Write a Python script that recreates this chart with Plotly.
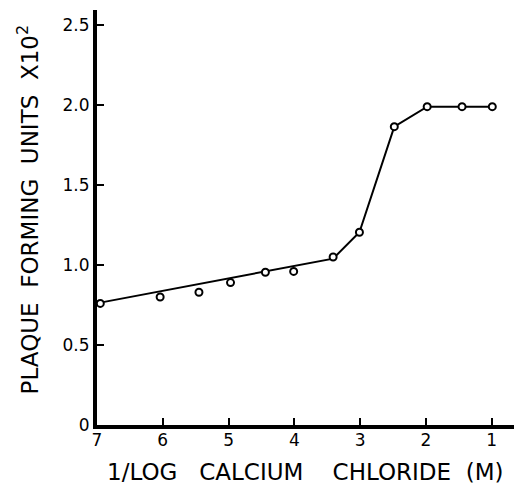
import plotly.graph_objects as go

# Observed data points (x = 1/log CaCl2 (M), y = plaque forming units x10^2)
point_x = [6.95, 6.04, 5.45, 4.97, 4.44, 4.01, 3.41, 3.01, 2.48, 1.98, 1.45, 0.99]
point_y = [0.76, 0.80, 0.83, 0.89, 0.955, 0.96, 1.05, 1.205, 1.865, 1.99, 1.99, 1.99]

# Hand-drawn fitted curve through the data
curve_x = [6.95, 3.41, 3.01, 2.48, 1.98, 1.45, 0.99]
curve_y = [0.765, 1.04, 1.205, 1.865, 1.99, 1.99, 1.99]

x_ticks = [7, 6, 5, 4, 3, 2, 1]
y_ticks = [0, 0.5, 1.0, 1.5, 2.0, 2.5]
y_ticktext = ["0", "0.5", "1.0", "1.5", "2.0", "2.5"]

FONT = "DejaVu Sans"

fig = go.Figure()
fig.add_trace(go.Scatter(x=curve_x, y=curve_y, mode="lines",
                         line=dict(color="black", width=2), hoverinfo="skip"))
fig.add_trace(go.Scatter(x=point_x, y=point_y, mode="markers",
                         marker=dict(symbol="circle", size=7, color="white",
                                     line=dict(color="black", width=2))))

fig.update_layout(
    width=514, height=491,
    margin=dict(l=97, r=0, t=10, b=66),
    paper_bgcolor="white", plot_bgcolor="white",
    showlegend=False,
    font=dict(family=FONT, color="black"),
    xaxis=dict(range=[7, 0.66], tickvals=x_ticks, ticks="inside", ticklen=7,
               tickwidth=2, tickcolor="black", showline=True, linewidth=4,
               linecolor="black", showgrid=False, zeroline=False,
               tickfont=dict(size=17, family=FONT), ticklabelstandoff=-3),
    yaxis=dict(range=[0, 2.594], tickvals=y_ticks, ticktext=y_ticktext,
               ticks="inside", ticklen=7, tickwidth=2, tickcolor="black",
               showline=True, linewidth=4, linecolor="black", showgrid=False,
               zeroline=False, tickfont=dict(size=17, family=FONT)),
    annotations=[
        dict(text="1/LOG   CALCIUM    CHLORIDE  (M)", xref="paper", yref="paper",
             x=0.499, y=-0.113, xanchor="center", yanchor="middle", showarrow=False,
             font=dict(size=23, family=FONT)),
        dict(text="PLAQUE  FORMING  UNITS  X10<sup>2</sup>", xref="paper", yref="paper",
             x=-0.165, y=0.52, xanchor="center", yanchor="middle", showarrow=False,
             textangle=-90, font=dict(size=23, family=FONT)),
    ],
)

fig.write_html(
    "out.html",
    config={"displayModeBar": False},
    post_script="document.body.style.margin='0';document.body.style.overflow='hidden';",
)
